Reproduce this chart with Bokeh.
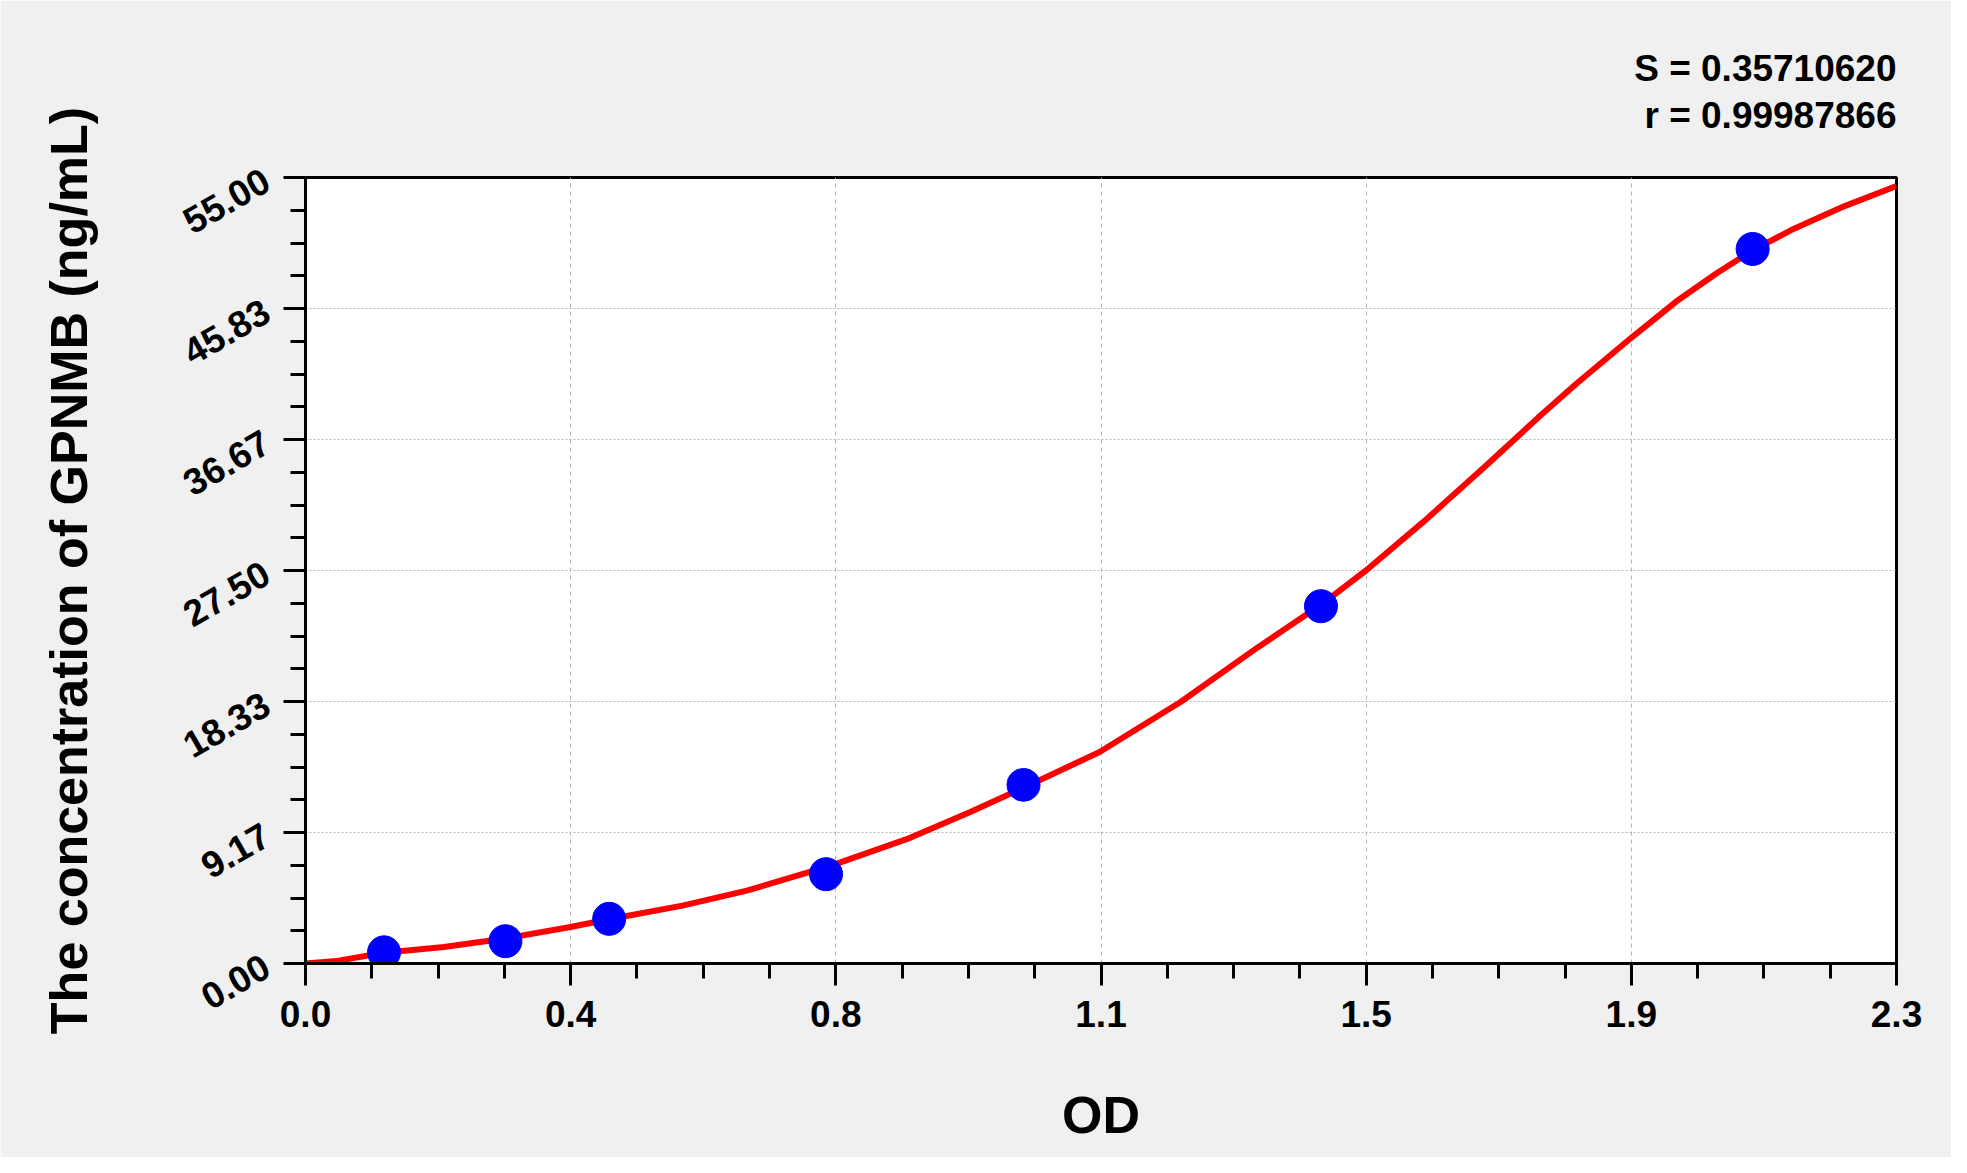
from bokeh.plotting import figure
from bokeh.models import FixedTicker, Range1d, Title
from bokeh.embed import file_html
from bokeh.resources import INLINE

# ---- data ----
std_od = [0.1135, 0.289, 0.439, 0.7525, 1.038, 1.468, 2.092]
std_conc = [0.78, 1.56, 3.125, 6.25, 12.5, 25.0, 50.0]

curve_od = [0.0, 0.048, 0.1135, 0.2, 0.289, 0.383, 0.439, 0.545, 0.638, 0.763,
            0.869, 0.961, 1.038, 1.148, 1.265, 1.376, 1.468, 1.533, 1.616, 1.708,
            1.782, 1.838, 1.917, 1.981, 2.040, 2.092, 2.151, 2.225, 2.3]
curve_conc = [0.0, 0.2, 0.75, 1.15, 1.75, 2.55, 3.1, 4.05, 5.1, 6.9,
              8.7, 10.6, 12.3, 14.8, 18.3, 22.1, 25.1, 27.5, 30.9, 34.9,
              38.2, 40.6, 43.8, 46.3, 48.3, 49.9, 51.4, 53.0, 54.4]

x_tick_labels = ["0.0", "0.4", "0.8", "1.1", "1.5", "1.9", "2.3"]
y_tick_labels = ["0.00", "9.17", "18.33", "27.50", "36.67", "45.83", "55.00"]
x_max = 2.3
y_max = 55.0

stat_lines = ["S = 0.35710620", "r = 0.99987866"]
x_title = "OD"
y_title = "The concentration of GPNMB (ng/mL)"

# ---- ticks ----
n = len(x_tick_labels) - 1
x_major = [x_max * i / n for i in range(n + 1)]
y_major = [y_max * i / n for i in range(n + 1)]
x_minor = [x_max * i / (n * 4) for i in range(n * 4 + 1) if i % 4]
y_minor = [y_max * i / (n * 4) for i in range(n * 4 + 1) if i % 4]

FONT = "Liberation Sans"

p = figure(width=1951, height=1157, output_backend="svg", toolbar_location=None,
           x_range=Range1d(0, x_max), y_range=Range1d(0, y_max),
           min_border_left=305, min_border_right=55,
           min_border_top=177, min_border_bottom=194)

p.background_fill_color = "white"
p.border_fill_color = "#f0f0f0"
p.outline_line_color = "black"
p.outline_line_width = 3

# grid
p.xgrid.ticker = FixedTicker(ticks=x_major)
p.ygrid.ticker = FixedTicker(ticks=y_major)
p.xgrid.grid_line_color = "#b4b4b4"
p.xgrid.grid_line_dash = "4 4"
p.ygrid.grid_line_color = "#b4b4b4"
p.ygrid.grid_line_dash = "2 2"
p.xgrid.grid_line_width = 1
p.ygrid.grid_line_width = 1

# axes
xa = p.xaxis[0]
ya = p.yaxis[0]
xa.ticker = FixedTicker(ticks=x_major, minor_ticks=x_minor)
ya.ticker = FixedTicker(ticks=y_major, minor_ticks=y_minor)
xa.major_label_overrides = {v: s for v, s in zip(x_major, x_tick_labels)}
ya.major_label_overrides = {v: s for v, s in zip(y_major, y_tick_labels)}

for ax in (xa, ya):
    ax.axis_line_width = 3
    ax.axis_line_color = "black"
    ax.major_tick_line_width = 3
    ax.minor_tick_line_width = 3
    ax.major_tick_in = 0
    ax.major_tick_out = 22
    ax.minor_tick_in = 0
    ax.minor_tick_out = 15
    ax.major_label_text_font = FONT
    ax.major_label_text_font_style = "bold"
    ax.major_label_text_color = "black"
    ax.axis_label_text_font = FONT
    ax.axis_label_text_font_style = "bold"
    ax.axis_label_text_font_size = "52px"
    ax.axis_label_text_color = "black"

xa.major_label_text_font_size = "37px"
xa.major_label_standoff = 15
xa.axis_label = x_title
xa.axis_label_standoff = 56

ya.major_label_text_font_size = "37px"
ya.major_label_orientation = 0.5236
ya.major_label_standoff = 17
ya.axis_label = y_title
ya.axis_label_standoff = 72

# fitted curve and standards
p.line(curve_od, curve_conc, line_color="#ff0000", line_width=6)
p.scatter(std_od, std_conc, size=33, fill_color="#0000ff", line_color="#0000ff")

# statistics text above the frame, right aligned; "r" is one space narrower
# than "S" in this font, so a no-break space keeps both lines flush right
stat_text = stat_lines[0] + "\n\u00a0" + stat_lines[1]
p.add_layout(Title(text=stat_text, align="right", standoff=82,
                   text_font=FONT, text_font_style="bold", text_line_height=1.15,
                   text_font_size="37px", text_color="black"), "above")

open("out.html", "w").write(file_html(p, INLINE))
